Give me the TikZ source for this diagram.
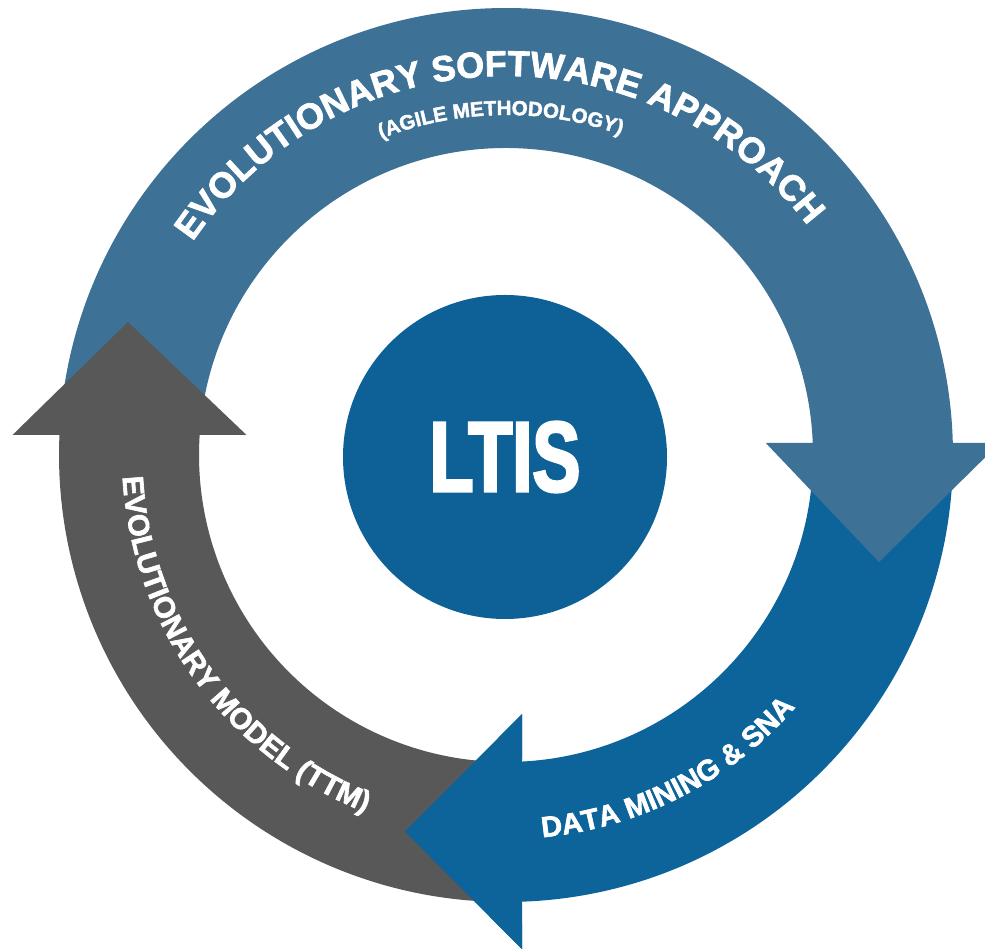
\documentclass[tikz,border=0pt]{standalone}
\usepackage{fontspec}
\setmainfont{Liberation Sans}
\newfontfamily\heavyf{Liberation Sans}[FakeBold=2]
\newfontfamily\ltisf{Liberation Sans}[FakeStretch=0.72,FakeBold=2.5]
\usetikzlibrary{decorations.text}
\definecolor{topblue}{HTML}{3D7296}
\definecolor{botblue}{HTML}{0C649A}
\definecolor{hubblue}{HTML}{0E6196}
\definecolor{arrgray}{HTML}{585858}
\tikzset{
  hubstyle/.style={circle, fill=hubblue, inner sep=0pt, minimum size=324pt, text=white},
}
\begin{document}
\begin{tikzpicture}[x=1pt,y=1pt]
\useasboundingbox (0,0) rectangle (985,949);
\begin{scope}[shift={(506,494)}]
% bottom arrow (Data Mining & SNA)
\fill[botblue] (-0.7465:307pt) arc[start angle=-0.7465, end angle=-87.013, radius=307pt]
  -- (16,-259.15) -- (-101,-376.65) -- (16,-494.15)
  -- (-87.949:447pt) arc[start angle=-87.949, end angle=-0.5127, radius=447pt] -- cycle;
% top arrow (Evolutionary software approach)
\fill[topblue] (175.14:307pt) arc[start angle=175.14, end angle=2.24, radius=307pt]
  -- (259.8,12) -- (373,-107) -- (493.8,12)
  -- (1.538:447pt) arc[start angle=1.538, end angle=176.665, radius=447pt] -- cycle;
% gray arrow (Evolutionary model)
\fill[arrgray] (176.265:307pt) arc[start angle=176.265, end angle=269.81, radius=307pt]
  -- (269.87:447pt) arc[start angle=269.87, end angle=177.436, radius=447pt]
  -- (-493.5,20) -- (-378,133) -- (-259.5,20) -- cycle;
% bottom arrow head on top of gray tail
\fill[botblue] (16,-259.15) -- (-101,-376.65) -- (16,-494.15) -- cycle;

% texts along the ring
\path[decorate, decoration={text along path, text align=center, text color=white,
  text={|\heavyf\bfseries\fontsize{36pt}{36pt}\selectfont|EVOLUTIONARY SOFTWARE APPROACH}}]
  (181.5:379pt) arc[start angle=181.5, end angle=1.5, radius=379pt];
\path[decorate, decoration={text along path, text align=center, text color=white,
  text={|\heavyf\bfseries\fontsize{20.5pt}{20.5pt}\selectfont|(AGILE METHODOLOGY)}}]
  (180.9:340pt) arc[start angle=180.9, end angle=0.9, radius=340pt];
\path[decorate, decoration={text along path, text align=center, text color=white,
  text={|\heavyf\bfseries\fontsize{29.5pt}{29.5pt}\selectfont|EVOLUTIONARY MODEL (TTM)}}]
  (140.9:384pt) arc[start angle=140.9, end angle=290.9, radius=384pt];
\path[decorate, decoration={text along path, text align=center, text color=white,
  text={|\heavyf\bfseries\fontsize{29pt}{29pt}\selectfont|DATA MINING {\&} SNA}}]
  (-137.8:384pt) arc[start angle=-137.8, end angle=12.2, radius=384pt];

% hub
\node[hubstyle] (hub) at (-1,-2) {\ltisf\bfseries\fontsize{100pt}{100pt}\selectfont LTIS};
\end{scope}
\end{tikzpicture}
\end{document}
